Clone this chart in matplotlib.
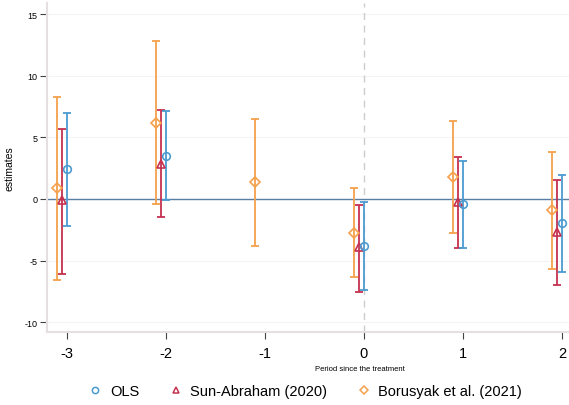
import matplotlib
matplotlib.use("Agg")
import matplotlib.pyplot as plt
import numpy as np
from matplotlib.lines import Line2D

plt.rcParams["font.family"] = ["Liberation Sans", "DejaVu Sans"]

# Data
periods_ols = [-3, -2, 0, 1, 2]
ols_est = [2.4, 3.5, -3.84, -0.43, -1.97]
ols_lo = [-2.2, -0.1, -7.4, -3.97, -5.9]
ols_hi = [7.0, 7.1, -0.27, 3.1, 1.92]

periods_sa = [-3, -2, 0, 1, 2]
sa_est = [-0.1, 2.8, -3.9, -0.27, -2.7]
sa_lo = [-6.1, -1.5, -7.55, -3.97, -6.95]
sa_hi = [5.7, 7.2, -0.46, 3.38, 1.51]

periods_bjs = [-3, -2, -1, 0, 1, 2]
bjs_est = [0.9, 6.2, 1.4, -2.76, 1.78, -0.92]
bjs_lo = [-6.6, -0.4, -3.8, -6.3, -2.76, -5.68]
bjs_hi = [8.3, 12.8, 6.5, 0.9, 6.3, 3.84]

xticks = [-3, -2, -1, 0, 1, 2]
yticks = [-10, -5, 0, 5, 10, 15]

c_ols = "#4b9bd1"
c_sa = "#c5314f"
c_bjs = "#f4a04c"

W, H = 569, 406
fig = plt.figure(figsize=(W / 100, H / 100), dpi=100)
ax = fig.add_axes([47 / W, (406 - 333) / H, (569 - 47) / W, (333 - 4) / H])

ax.set_xlim(-3.2, 2.07)
ax.set_ylim(-10.8, 15.9)

for y in yticks:
    ax.axhline(y, color="#f5f3f3", lw=0.8, zorder=0)
ax.axhline(0, color="#5a7da3", lw=1.0, zorder=1)
ax.axvline(0, color="#cccccc", lw=1.0, ls=(0, (5, 4)), zorder=1)

def draw(periods, est, lo, hi, off, color, marker, ms):
    x = np.array(periods) + off
    est = np.array(est); lo = np.array(lo); hi = np.array(hi)
    ax.errorbar(x, est, yerr=[est - lo, hi - est], fmt="none", ecolor=color,
                elinewidth=1.3, capsize=3, capthick=1.3, zorder=2)
    ax.plot(x, est, ls="none", marker=marker, ms=ms, mfc="none", mec=color,
            mew=1.2, zorder=3)

draw(periods_bjs, bjs_est, bjs_lo, bjs_hi, -0.10, c_bjs, "D", 5)
draw(periods_sa, sa_est, sa_lo, sa_hi, -0.05, c_sa, "^", 5.5)
draw(periods_ols, ols_est, ols_lo, ols_hi, 0.0, c_ols, "o", 5.5)

for s in ["top", "right"]:
    ax.spines[s].set_visible(False)
ax.spines["left"].set_color("#e6dfe1")
ax.spines["bottom"].set_color("#e6dfe1")
ax.spines["left"].set_linewidth(1.5)
ax.spines["bottom"].set_linewidth(1.5)

ax.set_xticks(xticks)
ax.set_xticklabels([str(v) for v in xticks], fontsize=10.5)
ax.set_yticks(yticks)
ax.set_yticklabels([str(v) for v in yticks], fontsize=6.5)
ax.tick_params(axis="x", length=5, width=0.8, color="#444444", pad=5)
ax.tick_params(axis="y", length=5, width=0.8, color="#444444", pad=2)

ax.set_ylabel("estimates", fontsize=7.5, labelpad=7)
ax.set_xlabel("Period since the treatment", fontsize=5.5)
ax.xaxis.set_label_coords((360 - 47) / (569 - 47), -0.10)

handles = [
    Line2D([], [], ls="none", marker="o", ms=4.5, mfc="none", mec=c_ols, mew=1.1),
    Line2D([], [], ls="none", marker="^", ms=4.5, mfc="none", mec=c_sa, mew=1.1),
    Line2D([], [], ls="none", marker="D", ms=4.5, mfc="none", mec=c_bjs, mew=1.1),
]
labels = ["OLS", "Sun-Abraham (2020)", "Borusyak et al. (2021)"]
fig.legend(handles, labels, loc="center", bbox_to_anchor=(305 / W, 1 - 392 / H),
           ncol=3, frameon=False, fontsize=10.5, handlelength=1.0,
           handletextpad=0.5, columnspacing=2.0)

fig.savefig("out.png", dpi=100)
